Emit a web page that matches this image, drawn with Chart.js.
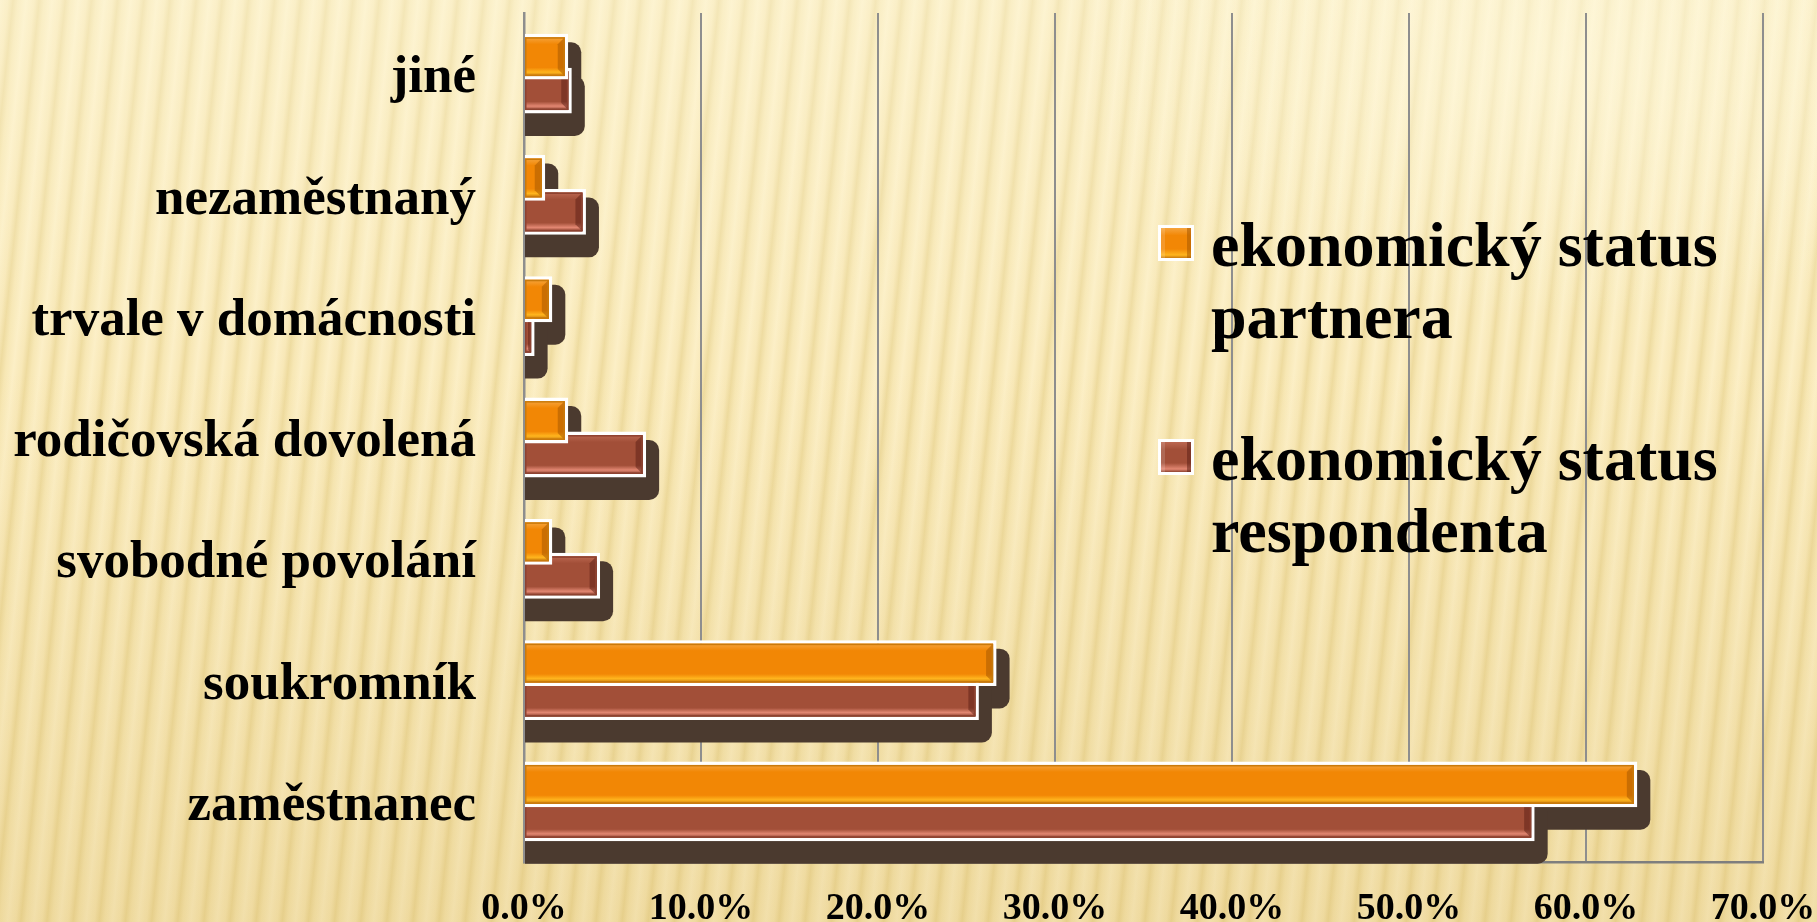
<!DOCTYPE html>
<html lang="cs">
<head>
<meta charset="UTF-8">
<title>Ekonomický status</title>
<script src="https://cdn.jsdelivr.net/npm/chart.js"></script>
<style>
  html, body {
    margin: 0;
    padding: 0;
    overflow: hidden;
  }
  body {
    width: 1817px;
    height: 922px;
    position: relative;
    background:
      radial-gradient(ellipse 500px 260px at 1560px 60px, rgba(255,250,225,0.45), rgba(255,250,225,0)),
      linear-gradient(180deg, rgba(255,252,230,0.35) 0%, rgba(255,250,225,0) 40%, rgba(200,160,60,0.2) 100%),
      repeating-linear-gradient(96deg, #fcefc6 0px, #f8e8b7 8px, #eedb9f 13px, #f7e7b4 18px, #fcefc6 26px);
  }
  .chart-box {
    position: absolute;
    left: 0;
    top: 0;
    width: 1817px;
    height: 936px;
  }
  .legend {
    position: absolute;
    left: 1158px;
    top: 209px;
    font-family: "Liberation Serif", "Times New Roman", serif;
    font-weight: bold;
    font-size: 64px;
    line-height: 72px;
    color: #000;
  }
  .legend-item {
    display: flex;
    align-items: flex-start;
    margin-bottom: 70px;
  }
  .swatch {
    width: 30px;
    height: 30px;
    border: 3px solid #fff;
    margin-top: 16px;
    margin-right: 17px;
    box-sizing: content-box;
  }
  .legend-text {
    width: 560px;
  }
</style>
</head>
<body>
<div class="chart-box">
  <canvas id="status-chart"></canvas>
</div>
<div class="legend" id="legend"></div>

<script>
  // categories from top to bottom
  const categories = ['jiné', 'nezaměstnaný', 'trvale v domácnosti', 'rodičovská dovolená',
                      'svobodné povolání', 'soukromník', 'zaměstnanec'];
  const partnerValues = [2.5, 1.2, 1.6, 2.5, 1.6, 26.7, 62.9];
  const respondentValues = [2.7, 3.5, 0.6, 6.9, 4.3, 25.7, 57.1];
  const seriesNames = ['ekonomický status partnera', 'ekonomický status respondenta'];
  const axisMax = 70;
  const axisStep = 10;

  // bevel colours: [top, main, bottom light, bottom edge, end shade]
  const barLooks = [
    ['#f6a43c', '#f28705', '#ffb51e', '#c97a0c', 'rgba(170,90,0,0.55)'],
    ['#bb6750', '#a24f38', '#e28772', '#8e4230', 'rgba(90,30,20,0.5)']
  ];

  const serif = '"Liberation Serif", "Times New Roman", serif';

  // shadow behind bars + bevel on top of them
  const barEffects = {
    id: 'barEffects',
    beforeDatasetsDraw(chart) {
      const ctx = chart.ctx;
      ctx.save();
      ctx.fillStyle = '#4b3a2f';
      chart.data.datasets.forEach((ds, i) => {
        chart.getDatasetMeta(i).data.forEach(bar => {
          const p = bar.getProps(['x', 'y', 'base', 'height'], true);
          const top = p.y - p.height / 2;
          ctx.beginPath();
          ctx.roundRect(p.base, top + 8.5, p.x - p.base + 13, p.height + 14, [0, 10, 10, 0]);
          ctx.fill();
        });
      });
      ctx.restore();
    },
    afterDatasetDraw(chart, args) {
      const ctx = chart.ctx;
      const look = barLooks[args.index];
      ctx.save();
      args.meta.data.forEach(bar => {
        const p = bar.getProps(['x', 'y', 'base', 'height'], true);
        const x0 = p.base, x1 = p.x - 3.5;
        const y0 = p.y - p.height / 2 + 3.5, y1 = p.y + p.height / 2 - 3.5;
        if (x1 <= x0) return;
        const g = ctx.createLinearGradient(0, y0, 0, y1);
        g.addColorStop(0, look[0]);
        g.addColorStop(0.18, look[1]);
        g.addColorStop(0.78, look[1]);
        g.addColorStop(0.9, look[2]);
        g.addColorStop(1, look[3]);
        ctx.fillStyle = g;
        ctx.fillRect(x0, y0, x1 - x0, y1 - y0);
        // right end bevel
        const b = Math.min(7, (x1 - x0) / 2);
        ctx.fillStyle = look[4];
        ctx.beginPath();
        ctx.moveTo(x1, y0);
        ctx.lineTo(x1, y1);
        ctx.lineTo(x1 - b, y1 - b);
        ctx.lineTo(x1 - b, y0 + b);
        ctx.closePath();
        ctx.fill();
        ctx.strokeStyle = look[3];
        ctx.lineWidth = 1.5;
        ctx.strokeRect(x0 + 0.75, y0 + 0.75, x1 - x0 - 1.5, y1 - y0 - 1.5);
      });
      ctx.restore();
    }
  };

  const ctx = document.getElementById('status-chart').getContext('2d');
  const chart = new Chart(ctx, {
    type: 'bar',
    data: {
      labels: categories,
      datasets: [{
        label: seriesNames[0],
        data: partnerValues,
        backgroundColor: barLooks[0][1],
        borderColor: '#ffffff',
        borderWidth: 3.5,
        borderSkipped: 'start',
        categoryPercentage: 0.56,
        barPercentage: 1.35
      }, {
        label: seriesNames[1],
        data: respondentValues,
        backgroundColor: barLooks[1][1],
        borderColor: '#ffffff',
        borderWidth: 3.5,
        borderSkipped: 'start',
        categoryPercentage: 0.56,
        barPercentage: 1.35
      }]
    },
    options: {
      indexAxis: 'y',
      responsive: true,
      maintainAspectRatio: false,
      animation: false,
      layout: {
        padding: { top: 13, right: 54, bottom: 0, left: 0 }
      },
      plugins: {
        legend: { display: false },
        tooltip: { enabled: false }
      },
      scales: {
        x: {
          min: 0,
          max: axisMax,
          afterFit: s => { s.height = 74; s.paddingLeft = 0; s.paddingRight = 0; },
          ticks: {
            stepSize: axisStep,
            padding: 24,
            color: '#000',
            font: { family: serif, weight: 'bold', size: 38 },
            callback: v => v.toFixed(1) + '%'
          },
          grid: {
            color: '#8e8e8e',
            lineWidth: 2,
            drawTicks: false
          },
          border: { display: true, color: '#7e7e7e', width: 2.5 }
        },
        y: {
          afterFit: s => { s.width = 524; s.paddingTop = 0; s.paddingBottom = 0; },
          ticks: {
            padding: 48,
            labelOffset: 5,
            color: '#000',
            font: { family: serif, weight: 'bold', size: 53 }
          },
          grid: { display: false, drawTicks: false },
          border: { display: true, color: '#8e8e8e', width: 2.5 }
        }
      }
    },
    plugins: [barEffects]
  });

  // legend built from the series names
  const legend = document.getElementById('legend');
  seriesNames.forEach((name, i) => {
    const look = barLooks[i];
    const item = document.createElement('div');
    item.className = 'legend-item';
    const sw = document.createElement('div');
    sw.className = 'swatch';
    sw.style.background = 'linear-gradient(180deg,' + look[0] + ' 0%,' + look[1] + ' 25%,' +
      look[1] + ' 70%,' + look[2] + ' 90%,' + look[3] + ' 100%)';
    sw.style.boxShadow = 'inset -4px 0 0 ' + look[4] + ', inset 4px 0 0 rgba(255,255,255,0.15)';
    const tx = document.createElement('div');
    tx.className = 'legend-text';
    tx.textContent = name;
    item.appendChild(sw);
    item.appendChild(tx);
    legend.appendChild(item);
  });
</script>
</body>
</html>
